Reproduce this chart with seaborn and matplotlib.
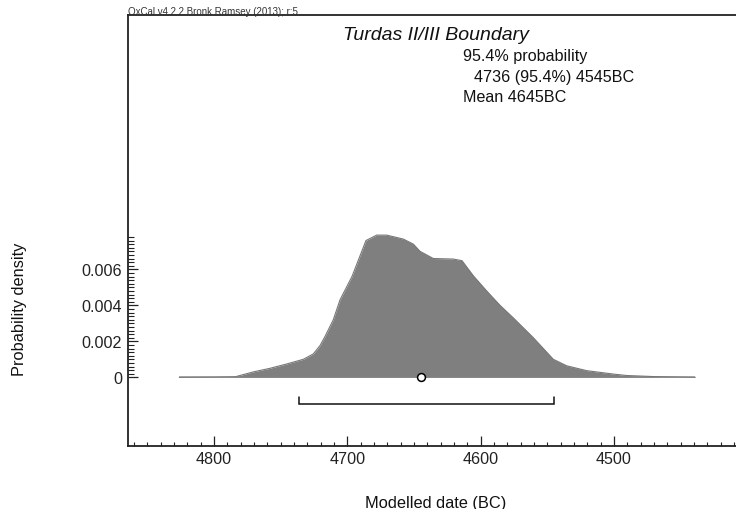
import numpy as np
import pandas as pd
import matplotlib
matplotlib.use("Agg")
import matplotlib.pyplot as plt
import seaborn as sns
from matplotlib.ticker import FixedLocator, MultipleLocator

# Posterior density of the Turdas II/III boundary (calendar years BC)
years = [4826, 4800, 4784, 4770.5, 4758, 4745.5, 4733, 4725.5, 4720.5, 4716.5,
         4710.5, 4705.5, 4696.5, 4686, 4678, 4670.5, 4658, 4650.5, 4645.5,
         4635.5, 4620.5, 4614, 4605.5, 4595.5, 4585.5, 4575.5, 4560.5,
         4545.5, 4535.5, 4520.5, 4500.5, 4490.5, 4470, 4439]
density = [0.0, 0.00001, 0.00003, 0.0003, 0.0005, 0.00074, 0.0010, 0.0013,
           0.00176, 0.0023, 0.0032, 0.0043, 0.0056, 0.0076, 0.0079, 0.0079,
           0.00768, 0.0074, 0.0070, 0.0066, 0.00657, 0.00648, 0.00564,
           0.0048, 0.0040, 0.0033, 0.0022, 0.0010, 0.00064, 0.00037,
           0.00018, 0.0001, 0.00004, 0.0]

range_954 = [4736, 4545]     # 95.4% highest posterior density range
mean_bc = 4645
x_major = [4800, 4700, 4600, 4500]
y_major = [0, 0.002, 0.004, 0.006]
y_labels = ["0", "0.002", "0.004", "0.006"]

df = pd.DataFrame({"year": years, "density": density})

sns.set_theme(style="ticks")
plt.rcParams["font.family"] = ["Liberation Sans", "DejaVu Sans"]
plt.rcParams["font.size"] = 11.6

W, H = 736, 510
fig = plt.figure(figsize=(W / 100, H / 100), dpi=100)
ax = fig.add_axes([127.7 / W, 1 - 446.7 / H, 1 - 127.7 / W, (446.7 - 16) / H])

gray = "#7f7f7f"
ax.fill_between(df["year"], 0, df["density"], color=gray, linewidth=0, zorder=2)
sns.lineplot(data=df, x="year", y="density", ax=ax, color="#777777",
             linewidth=0.8, zorder=3, estimator=None, sort=False)
ax.plot([df["year"].iloc[0], df["year"].iloc[-1]], [0, 0], color="#b0b0b0",
        linewidth=1.3, zorder=1, solid_capstyle="butt")

# range bar with end caps
bar_y = -0.00148
cap = 0.00036
ax.plot([range_954[0], range_954[0], range_954[1], range_954[1]],
        [bar_y + cap, bar_y, bar_y, bar_y + cap], color="#111111",
        linewidth=1.1, solid_joinstyle="miter", zorder=4)

# mean marker
sns.scatterplot(x=[mean_bc], y=[0], ax=ax, s=32, color="white",
                edgecolor="black", linewidth=1.1, zorder=5, legend=False)

ax.set_xlim(4864.7, 4408.5)
ax.set_ylim(-0.0038, 0.02013)

ax.xaxis.set_major_locator(FixedLocator(x_major))
ax.xaxis.set_minor_locator(MultipleLocator(10))
ax.set_yticks(y_major)
ax.set_yticklabels(y_labels)
ax.yaxis.set_minor_locator(FixedLocator(
    [v for v in np.round(np.arange(0.0002, 0.00781, 0.0002), 4)
     if not any(abs(v - m) < 1e-9 for m in y_major)]))

ax.tick_params(axis="both", which="major", direction="in", length=7.5,
               width=0.9, color="#222222", labelsize=11.6, labelcolor="#222222")
ax.tick_params(axis="x", which="major", pad=3.5)
ax.tick_params(axis="y", which="major", pad=4)
ax.tick_params(axis="x", which="minor", direction="in", length=3.2,
               width=0.8, color="#222222")
ax.tick_params(axis="y", which="minor", direction="in", length=4,
               width=0.8, color="#222222")

for side in ["left", "top", "bottom"]:
    ax.spines[side].set_color("#222222")
    ax.spines[side].set_linewidth(1.3)
ax.spines["right"].set_visible(False)
ax.set_xlabel("")
ax.set_ylabel("")

def px(x, y):
    return x / W, 1 - y / H

fig.text(*px(128.3, 15), "OxCal v4.2.2 Bronk Ramsey (2013); r:5", fontsize=7,
         color="#333333", ha="left", va="baseline")
fig.text(*px(343.3, 40), "Turdas II/III Boundary", fontsize=14, style="italic",
         color="#111111", ha="left", va="baseline")
fig.text(*px(462.7, 60.7), "95.4% probability", fontsize=11.6,
         color="#111111", ha="left", va="baseline")
fig.text(*px(474, 81.7), f"{range_954[0]} (95.4%) {range_954[1]}BC",
         fontsize=11.6, color="#111111", ha="left", va="baseline")
fig.text(*px(462.7, 101.7), f"Mean {mean_bc}BC", fontsize=11.6,
         color="#111111", ha="left", va="baseline")
fig.text(*px(20, 309), "Probability density", fontsize=11.8, rotation=90,
         color="#111111", ha="center", va="center")
fig.text(*px(436, 507.7), "Modelled date (BC)", fontsize=11.8,
         color="#111111", ha="center", va="baseline")

fig.savefig("out.png", dpi=100)
